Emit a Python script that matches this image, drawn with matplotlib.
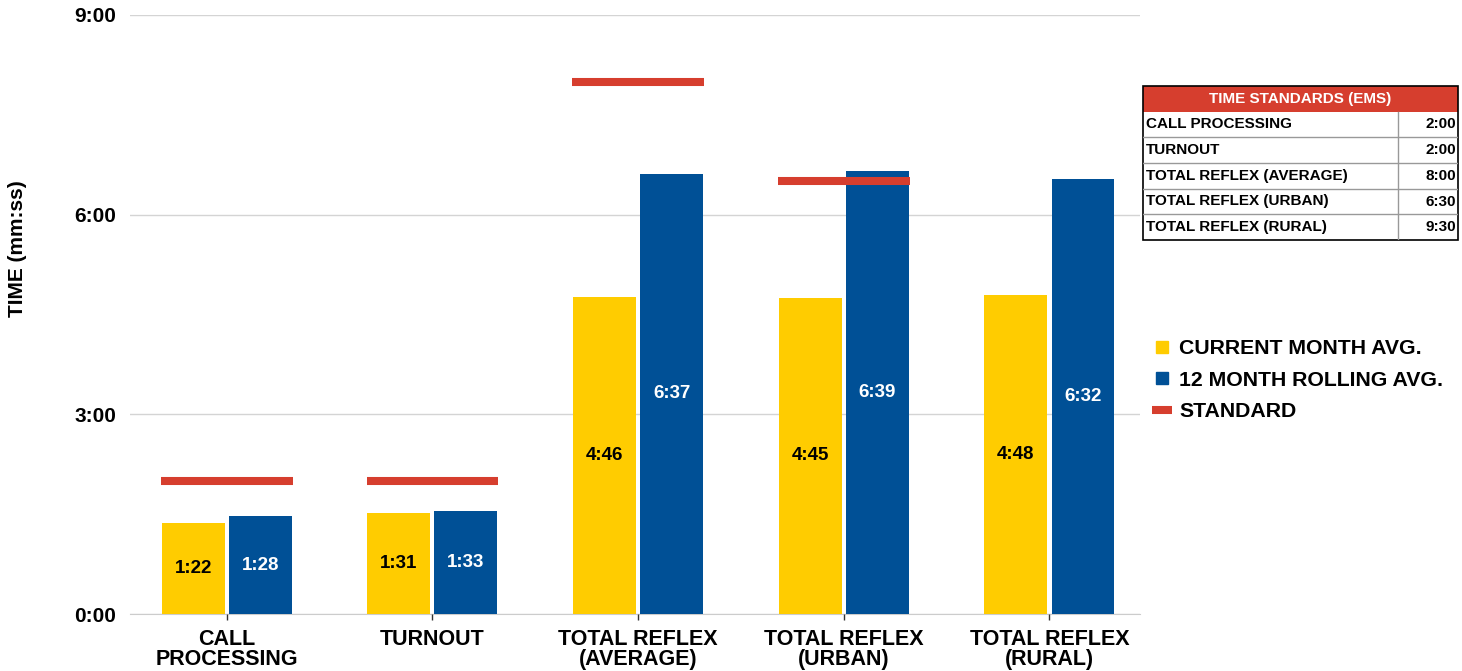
import matplotlib.pyplot as plt
from matplotlib.lines import Line2D
from matplotlib.patches import Rectangle

plt.rcParams['font.family'] = ['Liberation Sans', 'DejaVu Sans']
plt.rcParams['font.weight'] = 'bold'

# data (seconds)
categories = ["CALL\nPROCESSING", "TURNOUT", "TOTAL REFLEX\n(AVERAGE)",
              "TOTAL REFLEX\n(URBAN)", "TOTAL REFLEX\n(RURAL)"]
current_month = [82, 91, 286, 285, 288]
rolling_12 = [88, 93, 397, 399, 392]
standard = [120, 120, 480, 390, 570]

table_rows = ["CALL PROCESSING", "TURNOUT", "TOTAL REFLEX (AVERAGE)",
              "TOTAL REFLEX (URBAN)", "TOTAL REFLEX (RURAL)"]
table_vals = ["2:00", "2:00", "8:00", "6:30", "9:30"]

yticks = [0, 180, 360, 540]

YELLOW = '#FFCC00'
BLUE = '#005096'
RED = '#D63E2E'


def mmss(s):
    return f"{int(s // 60)}:{int(s % 60):02d}"


W, H = 1462, 671
fig = plt.figure(figsize=(W / 100, H / 100), dpi=100)
ax = fig.add_axes([130 / W, 57 / H, 1010 / W, 599 / H])

x = list(range(len(categories)))
bw = 0.306
off = 0.163
b1 = ax.bar([i - off for i in x], current_month, bw, color=YELLOW, zorder=3)
b2 = ax.bar([i + off for i in x], rolling_12, bw, color=BLUE, zorder=3)
ax.hlines(standard, [i - 0.32 for i in x], [i + 0.32 for i in x],
          colors=RED, linewidth=5.8, zorder=4)

for rect, v in zip(b1, current_month):
    ax.text(rect.get_x() + rect.get_width() / 2, v / 2, mmss(v),
            ha='center', va='center', fontsize=13.5, color='black', zorder=5)
for rect, v in zip(b2, rolling_12):
    ax.text(rect.get_x() + rect.get_width() / 2, v / 2, mmss(v),
            ha='center', va='center', fontsize=13.5, color='white', zorder=5)

ax.set_xlim(-0.47, 4.44)
ax.set_ylim(0, 540)
ax.set_yticks(yticks)
ax.set_yticklabels([mmss(t) for t in yticks], fontsize=15)
ax.set_xticks(x)
ax.set_xticklabels(categories, fontsize=15.5, linespacing=0.95)
ax.tick_params(axis='y', length=0, pad=10)
ax.tick_params(axis='x', length=4, width=1, pad=7, color='#333333')
ax.yaxis.grid(True, color='#d4d4d4', linewidth=1, zorder=0)
for s in ['top', 'right', 'left']:
    ax.spines[s].set_visible(False)
ax.spines['bottom'].set_color('#cccccc')
ax.spines['bottom'].set_zorder(1)

fig.text(18 / W, 1 - 249 / H, "TIME (mm:ss)", rotation=90, ha='center',
         va='center', fontsize=15)

# legend
handles = [
    Line2D([], [], marker='s', linestyle='none', markersize=9,
           markerfacecolor=YELLOW, markeredgecolor=YELLOW),
    Line2D([], [], marker='s', linestyle='none', markersize=9,
           markerfacecolor=BLUE, markeredgecolor=BLUE),
    Line2D([], [], color=RED, linewidth=5.8, solid_capstyle='butt'),
]
labels = ["CURRENT MONTH AVG.", "12 MONTH ROLLING AVG.", "STANDARD"]
fig.legend(handles, labels, loc='upper left',
           bbox_to_anchor=(1152 / W, 1 - 339 / H), frameon=False,
           fontsize=15.3, handlelength=0.95, handletextpad=0.33,
           labelspacing=0.6, borderpad=0, borderaxespad=0)

# standards table
tx = fig.add_axes([1143 / W, 1 - 240 / H, 315 / W, 154 / H])
tx.set_xlim(0, 1)
tx.set_ylim(0, 6)
tx.axis('off')
tx.add_patch(Rectangle((0, 5), 1, 1, facecolor=RED, edgecolor='none'))
tx.text(0.5, 5.5, "TIME STANDARDS (EMS)", ha='center', va='center',
        fontsize=11, color='white')
split = 0.81
for i, (name, val) in enumerate(zip(table_rows, table_vals)):
    yc = 4.5 - i
    tx.text(0.008, yc, name, ha='left', va='center', fontsize=11)
    tx.text(0.995, yc, val, ha='right', va='center', fontsize=11)
    if i > 0:
        tx.plot([0, 1], [5 - i, 5 - i], color='#999999', linewidth=1)
tx.plot([split, split], [0, 5], color='#999999', linewidth=1)
tx.add_patch(Rectangle((0, 0), 1, 6, facecolor='none', edgecolor='black',
                       linewidth=1.2, clip_on=False))

fig.savefig('out.png', dpi=100)
